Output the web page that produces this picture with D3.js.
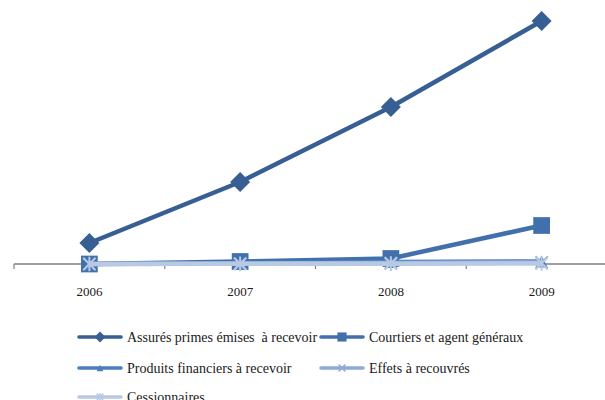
<!DOCTYPE html>
<html>
<head>
<meta charset="utf-8">
<script src="https://cdn.jsdelivr.net/npm/d3@7"></script>
<style>
  html, body { margin: 0; padding: 0; background: #fff; }
  svg { display: block; }
</style>
</head>
<body>
<svg id="chart" width="605" height="400"></svg>
<script>
// Years on the category axis
const years = ["2006", "2007", "2008", "2009"];

// Series names (legend order) and values per year
const seriesNames = [
  "Assurés primes émises  à recevoir",
  "Courtiers et agent généraux",
  "Produits financiers à recevoir",
  "Effets à recouvrés",
  "Cessionnaires"
];
const assures       = [210, 820, 1570, 2430];
const courtiers     = [0, 25, 55, 385];
const produits      = [0, 10, 20, 25];
const effets        = [0, 5, 10, 15];
const cessionnaires = [0, 2, 3, 5];

const seriesValues = [assures, courtiers, produits, effets, cessionnaires];
const seriesColors = ["#385f93", "#4170ad", "#4a7ebe", "#8fabd5", "#b8c9e4"];

const FONT = "Liberation Serif";

// Rotated-square diamond marker
const diamond = {
  draw(ctx, size) {
    const r = Math.sqrt(size / 2);
    ctx.moveTo(0, -r); ctx.lineTo(r, 0); ctx.lineTo(0, r); ctx.lineTo(-r, 0); ctx.closePath();
  }
};
// Triangle marker, centred on its box
const triangle = {
  draw(ctx, size) {
    const w = Math.sqrt(size);
    ctx.moveTo(0, -w / 2); ctx.lineTo(w / 2, w / 2); ctx.lineTo(-w / 2, w / 2); ctx.closePath();
  }
};
// Star marker: an X with a vertical stroke
const star = {
  draw(ctx, size) {
    const r = Math.sqrt(size) / 2;
    ctx.moveTo(-r, -r); ctx.lineTo(r, r);
    ctx.moveTo(r, -r); ctx.lineTo(-r, r);
    ctx.moveTo(0, -r * 1.2); ctx.lineTo(0, r * 1.2);
  }
};
const xMark = {
  draw(ctx, size) {
    const r = Math.sqrt(size) / 2;
    ctx.moveTo(-r, -r); ctx.lineTo(r, r);
    ctx.moveTo(r, -r); ctx.lineTo(-r, r);
  }
};

const markers = [
  { type: diamond,  size: 200, filled: true },
  { type: d3.symbolSquare, size: 280, filled: true },
  { type: triangle, size: 150, filled: true },
  { type: xMark,    size: 150, filled: false },
  { type: star,     size: 150, filled: false }
];

const svg = d3.select("#chart");

const x = d3.scaleBand().domain(years).range([14, 617]).paddingInner(0).paddingOuter(0);
const y = d3.scaleLinear().domain([0, 2600]).range([264, 4]);
const cx = d => x(d) + x.bandwidth() / 2;

// Category axis
const axisG = svg.append("g").attr("transform", `translate(0,${y(0)})`);
axisG.call(d3.axisBottom(x).tickSize(0).tickPadding(23))
  .attr("font-family", FONT)
  .attr("font-size", 13)
  .call(g => g.select(".domain").remove())
  .call(g => g.selectAll("text").attr("fill", "#1a1a1a"));
axisG.append("line")
  .attr("x1", x.range()[0]).attr("x2", x.range()[1])
  .attr("stroke", "#808080").attr("stroke-width", 1.5);
const edges = years.map(d => x(d)).concat([x.range()[1]]);
axisG.selectAll("line.tick-mark").data(edges).join("line")
  .attr("class", "tick-mark")
  .attr("x1", d => d).attr("x2", d => d)
  .attr("y1", 0).attr("y2", 5)
  .attr("stroke", "#808080").attr("stroke-width", 1.2);

const line = d3.line().x((d, i) => cx(years[i])).y(d => y(d));

// Series lines and markers
seriesValues.forEach((vals, s) => {
  const g = svg.append("g");
  g.append("path").datum(vals)
    .attr("d", line)
    .attr("fill", "none")
    .attr("stroke", seriesColors[s])
    .attr("stroke-width", 4.5)
    .attr("stroke-linejoin", "round");
  const m = markers[s];
  g.selectAll("path.mk").data(vals).join("path")
    .attr("class", "mk")
    .attr("transform", (d, i) => `translate(${cx(years[i])},${y(d)})`)
    .attr("d", d3.symbol().type(m.type).size(m.size))
    .attr("fill", m.filled ? seriesColors[s] : "none")
    .attr("stroke", seriesColors[s])
    .attr("stroke-width", m.filled ? 0 : 2);
});

// Legend
const legendPos = [
  [79, 337], [321, 337],
  [79, 368], [321, 368],
  [79, 397]
];
seriesNames.forEach((name, s) => {
  const [lx, ly] = legendPos[s];
  const g = svg.append("g").attr("transform", `translate(${lx},${ly})`);
  g.append("line").attr("x1", 0).attr("x2", 42)
    .attr("stroke", seriesColors[s]).attr("stroke-width", 3.6).attr("stroke-linecap", "round");
  const m = markers[s];
  g.append("path")
    .attr("transform", "translate(21,0)")
    .attr("d", d3.symbol().type(m.type).size(m.size * 0.3))
    .attr("fill", m.filled ? seriesColors[s] : "none")
    .attr("stroke", seriesColors[s])
    .attr("stroke-width", m.filled ? 0 : 1.5);
  g.append("text")
    .attr("x", 48).attr("y", 0).attr("dy", "0.35em")
    .attr("font-family", FONT)
    .attr("font-size", 14)
    .attr("fill", "#1a1a1a")
    .style("white-space", "pre")
    .text(name);
});
</script>
</body>
</html>
